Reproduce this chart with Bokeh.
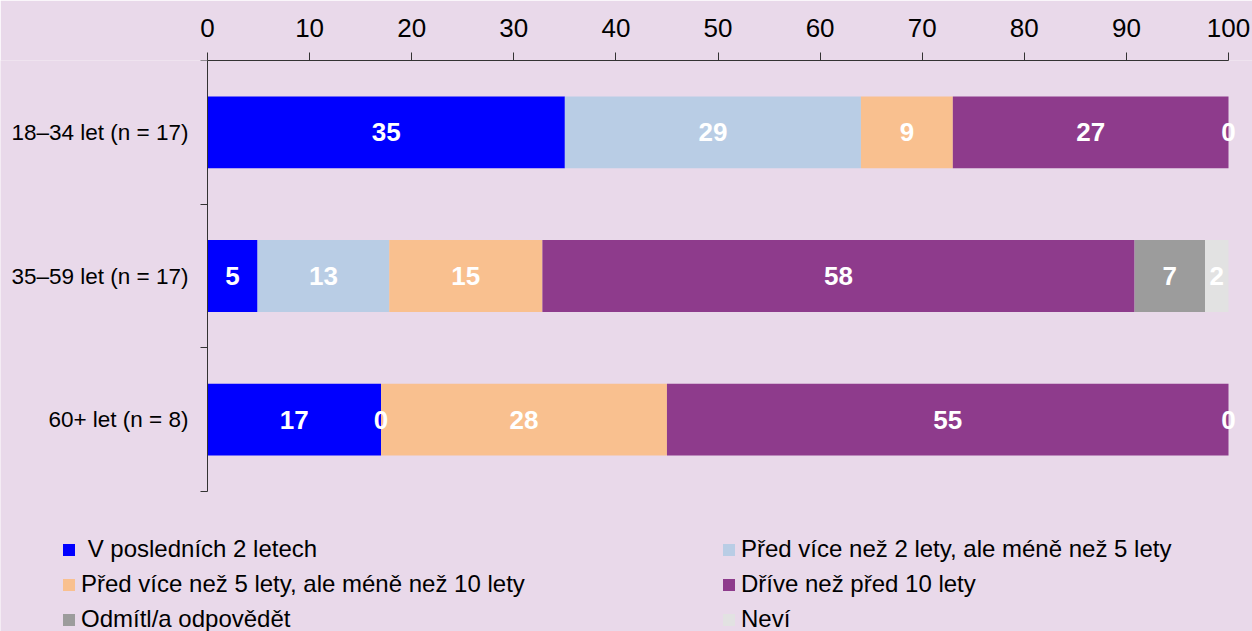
from bokeh.plotting import figure
from bokeh.models import ColumnDataSource, FixedTicker, Legend, LegendItem, Range1d
from bokeh.embed import file_html
from bokeh.resources import INLINE
from bokeh.core.properties import value

# ---- data ----
categories = ["18–34 let (n = 17)", "35–59 let (n = 17)", "60+ let (n = 8)"]
series = [
    "\u00a0V posledních 2 letech",
    "Před více než 2 lety, ale méně než 5 lety",
    "Před více než 5 lety, ale méně než 10 lety",
    "Dříve než před 10 lety",
    "Odmítl/a odpovědět",
    "Neví",
]
v_last2 = [35, 4.9, 17]
v_2to5 = [29, 12.9, 0]
v_5to10 = [9, 15.0, 28]
v_before10 = [27, 58.0, 55]
v_refused = [0, 6.9, 0]
v_dontknow = [0, 2.3, 0]
x_ticks = [0, 10, 20, 30, 40, 50, 60, 70, 80, 90, 100]

colors = ["#0000FF", "#B9CDE5", "#F9C08F", "#8E3B8C", "#9C9C9C", "#E2E2E2"]
BG = "#E9D9EA"
FONT = "Liberation Sans"

# ---- layout constants (pixels) ----
W, H = 1252, 631
TOP = 60
PLOT_LEFT = 207          # where x = 0 sits
PLOT_RIGHT = 1228        # where x = 100 sits
PLOT_BOTTOM = 491        # where the category block ends
frame_w = W
frame_h = H - TOP

values = [v_last2, v_2to5, v_5to10, v_before10, v_refused, v_dontknow]
keys = ["s%d" % i for i in range(len(series))]
n = len(categories)
ypos = [n - i - 0.5 for i in range(n)]

x_px = (PLOT_RIGHT - PLOT_LEFT) / 100.0
y_px = (PLOT_BOTTOM - TOP) / float(n)
x_start = -PLOT_LEFT / x_px
x_end = x_start + frame_w / x_px
y_start = n - frame_h / y_px

data = {"y": ypos}
for k, v in zip(keys, values):
    data[k] = v
source = ColumnDataSource(data)

p = figure(width=W, height=H, output_backend="svg", toolbar_location=None,
           x_range=Range1d(x_start, x_end), y_range=Range1d(y_start, n),
           x_axis_location="above",
           min_border_left=0, min_border_right=0, min_border_top=TOP,
           min_border_bottom=0)
p.background_fill_color = BG
p.border_fill_color = BG
p.outline_line_color = None
p.xgrid.visible = False
p.ygrid.visible = False

renderers = p.hbar_stack(keys, y="y", height=0.5, color=colors, source=source,
                         line_color=None)

# value labels
lx, ly, lt = [], [], []
seen = set()
for j in range(n):
    left = 0.0
    for v in values:
        val = v[j]
        cx = left + val / 2.0
        key = (round(cx, 3), ypos[j])
        if key not in seen:
            seen.add(key)
            lx.append(cx)
            ly.append(ypos[j])
            lt.append("%d" % round(val))
        left += val
lab_src = ColumnDataSource(dict(x=lx, y=ly, t=lt))
p.text(x="x", y="y", text="t", source=lab_src, text_align="center",
       text_baseline="middle", text_color="white", text_font=value(FONT),
       text_font_style="bold", text_font_size="26px")

# x axis (top)
xa = p.xaxis[0]
xa.ticker = FixedTicker(ticks=x_ticks, minor_ticks=[])
xa.bounds = (0, 100)
xa.major_tick_out = 8
xa.major_tick_in = 0
xa.minor_tick_out = 0
xa.minor_tick_in = 0
xa.axis_line_color = "#333333"
xa.major_tick_line_color = "#333333"
xa.major_label_text_font = FONT
xa.major_label_text_font_size = "26px"
xa.major_label_text_color = "black"
xa.major_label_standoff = 16

# y axis (fixed at x = 0)
ya = p.yaxis[0]
ya.fixed_location = 0
ya.bounds = (0, n)
ya.ticker = FixedTicker(ticks=ypos, minor_ticks=[float(i) for i in range(n + 1)])
ya.major_label_overrides = {ypos[j]: categories[j] for j in range(n)}
ya.major_tick_out = 0
ya.major_tick_in = 0
ya.minor_tick_out = 7
ya.minor_tick_in = 0
ya.axis_line_color = "#333333"
ya.minor_tick_line_color = "#333333"
ya.major_label_text_font = FONT
ya.major_label_text_font_size = "22.5px"
ya.major_label_text_color = "black"
ya.major_label_standoff = 12

legend = Legend(
    items=[LegendItem(label=s, renderers=[r]) for s, r in zip(series, renderers)],
    location=(61, -2), orientation="horizontal", ncols=2,
    glyph_width=15, glyph_height=15, label_standoff=5, label_width=633,
    label_height=27, spacing=7, padding=0, margin=0,
    label_text_font=FONT, label_text_font_size="24px", label_text_color="black",
    border_line_color=None, background_fill_alpha=0,
)
p.add_layout(legend, "center")

open("out.html", "w").write(file_html(p, INLINE))
